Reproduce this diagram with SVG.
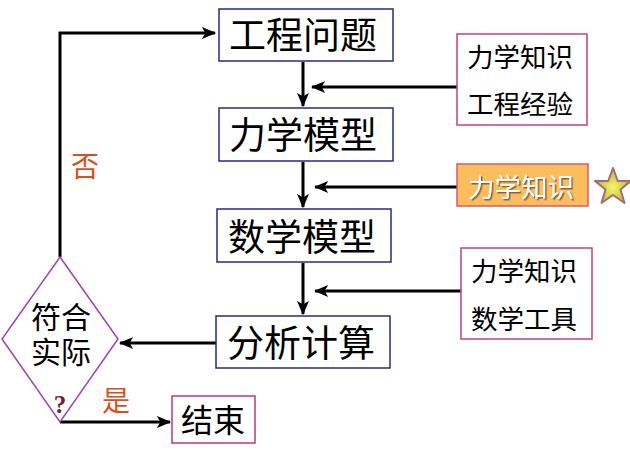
<svg xmlns="http://www.w3.org/2000/svg" width="630" height="456" viewBox="0 0 630 456">
<style>
.t{font-family:"Liberation Sans","Noto Sans CJK SC",sans-serif;fill:#000;text-anchor:middle}
.main{fill:#fff;stroke:#2a2a80;stroke-width:1.5}
.side{fill:#fff;stroke:#c8407a;stroke-width:1.5}
.c{stroke:#000;stroke-width:3;fill:none}
.lab{font-family:"Liberation Sans","Noto Sans CJK SC",sans-serif;fill:#d8501e;text-anchor:middle;font-size:28px}
</style>
<defs>
<marker id="ah" viewBox="0 0 12 10" refX="11" refY="5" markerWidth="5" markerHeight="4" orient="auto" markerUnits="strokeWidth">
<path d="M0,0 L12,5 L0,10 L3,5 Z" fill="#000"/>
</marker>
<radialGradient id="sg" cx="0.5" cy="0.55" r="0.5">
<stop offset="0" stop-color="#f4f860"/>
<stop offset="1" stop-color="#c0b050"/>
</radialGradient>
<filter id="sh" x="-10%" y="-10%" width="130%" height="130%">
<feDropShadow dx="1.5" dy="1.5" stdDeviation="0.6" flood-color="#7a5a30" flood-opacity="0.9"/>
</filter>
</defs>
<g id="connectors">
<path class="c" d="M303,62 V106" marker-end="url(#ah)"/>
<path class="c" d="M303,162 V207" marker-end="url(#ah)"/>
<path class="c" d="M303,263 V314" marker-end="url(#ah)"/>
<path class="c" d="M457,87 H312" marker-end="url(#ah)"/>
<path class="c" d="M457,187 H315" marker-end="url(#ah)"/>
<path class="c" d="M461,291 H315" marker-end="url(#ah)"/>
<path class="c" d="M216,343 H120" marker-end="url(#ah)"/>
<path class="c" d="M60,422 H170" marker-end="url(#ah)"/>
<path class="c" d="M60,257 V33 H215" marker-end="url(#ah)"/>
</g>
<g id="n1"><rect class="main" x="219" y="9" width="174" height="52"/><text class="t" x="303" y="49" font-size="37">工程问题</text></g>
<g id="n2"><rect class="main" x="219" y="108" width="174" height="53"/><text class="t" x="303" y="149" font-size="37">力学模型</text></g>
<g id="n3"><rect class="main" x="217" y="209" width="174" height="53"/><text class="t" x="302" y="251" font-size="37">数学模型</text></g>
<g id="n4"><rect class="main" x="216" y="316" width="174" height="52"/><text class="t" x="301" y="357" font-size="37">分析计算</text></g>
<g id="s1"><rect class="side" x="457" y="34" width="130" height="91"/><text class="t" x="520" y="67" font-size="26.5">力学知识</text><text class="t" x="520" y="114" font-size="26.5">工程经验</text></g>
<g id="s2"><rect x="457" y="164" width="131" height="42" fill="#fbbd5e" stroke="#d85a6a" stroke-width="1.5"/><text class="t" x="521" y="197" font-size="26.5" style="fill:#fff" filter="url(#sh)">力学知识</text></g>
<g id="star"><polygon points="613,168 617.8,181 631,181 620.5,189.5 624.5,203 613,195 601.5,203 605.5,189.5 595,181 608.2,181" fill="url(#sg)" stroke="#a07070" stroke-width="2" stroke-linejoin="round"/></g>
<g id="s3"><rect class="side" x="461" y="248" width="131" height="91"/><text class="t" x="524" y="281" font-size="26.5">力学知识</text><text class="t" x="524" y="329" font-size="26.5">数学工具</text></g>
<g id="d"><polygon points="60,257 118,339 60,422 2,339" fill="#fff" stroke="#a040b8" stroke-width="1.5"/><text class="t" x="61" y="328" font-size="30">符合</text><text class="t" x="61" y="363" font-size="30">实际</text><text x="60" y="413" font-family="Liberation Serif,serif" font-weight="bold" font-size="25" fill="#7a1a3a" text-anchor="middle">?</text></g>
<g id="end"><rect x="172" y="396" width="83" height="47" fill="#fff" stroke="#b83a78" stroke-width="1.5"/><text class="t" x="213" y="432" font-size="32">结束</text></g>
<text class="lab" x="85" y="177">否</text>
<text class="lab" x="116" y="411">是</text>
</svg>
